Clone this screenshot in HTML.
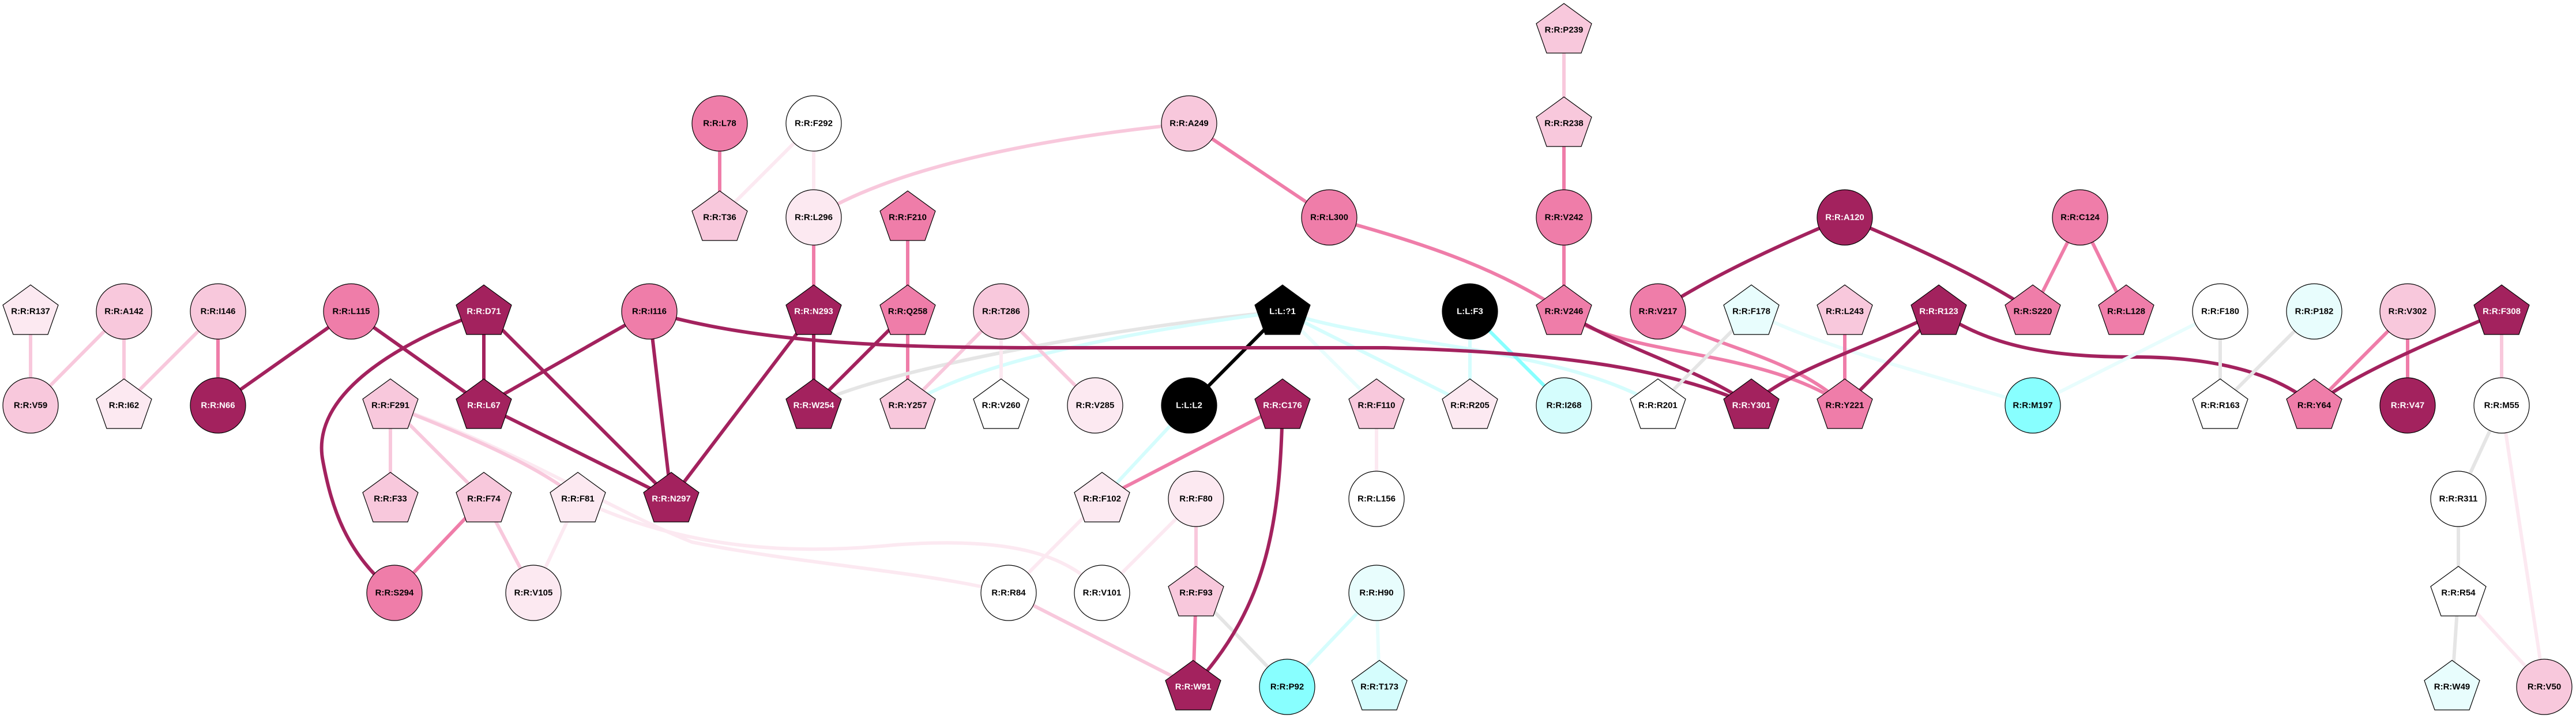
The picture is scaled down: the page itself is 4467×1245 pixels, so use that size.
<!DOCTYPE html>
<html><head><meta charset="utf-8"><style>
html,body{margin:0;padding:0;background:#fff;}
svg{display:block;}
text{font-family:"Liberation Sans",Arial,sans-serif;font-weight:bold;font-size:15px;text-anchor:middle;dominant-baseline:central;}
</style></head><body>
<svg width="4467" height="1245" viewBox="0 0 4467 1245" xmlns="http://www.w3.org/2000/svg">
<defs>
<polygon id="p" points="0,-46 48,-11 30,40 -30,40 -48,-11" stroke="#000" stroke-width="1.2"/>
</defs>
<g fill="none" stroke-width="6" stroke-linecap="round">
<!-- light/very light -->
<line x1="53" y1="540" x2="53" y2="703" stroke="#F8C8DC"/>
<line x1="215" y1="540" x2="53" y2="703" stroke="#F8C8DC"/>
<line x1="215" y1="540" x2="215" y2="703" stroke="#F8C8DC"/>
<line x1="378" y1="540" x2="215" y2="703" stroke="#F8C8DC"/>
<line x1="378" y1="540" x2="378" y2="703" stroke="#EF7DA9"/>
<line x1="609" y1="540" x2="378" y2="703" stroke="#A3225E"/>
<line x1="609" y1="540" x2="839" y2="703" stroke="#A3225E"/>
<line x1="839" y1="540" x2="839" y2="703" stroke="#A3225E"/>
<line x1="839" y1="540" x2="1164" y2="865" stroke="#A3225E"/>
<path d="M839,540 C650,610 540,700 560,800 C575,880 600,960 684,1028" stroke="#A3225E"/>
<line x1="1126" y1="540" x2="839" y2="703" stroke="#A3225E"/>
<line x1="1126" y1="540" x2="1164" y2="865" stroke="#A3225E"/>
<line x1="839" y1="703" x2="1164" y2="865" stroke="#A3225E"/>
<line x1="1411" y1="540" x2="1164" y2="865" stroke="#A3225E"/>
<line x1="1411" y1="540" x2="1411" y2="703" stroke="#A3225E"/>
<line x1="1411" y1="377" x2="1411" y2="540" stroke="#EF7DA9"/>
<line x1="1411" y1="214" x2="1411" y2="377" stroke="#FCE9F1"/>
<line x1="1411" y1="214" x2="1248" y2="377" stroke="#FCE9F1"/>
<line x1="1248" y1="214" x2="1248" y2="377" stroke="#EF7DA9"/>
<path d="M2062,214 C1800,240 1550,290 1411,377" stroke="#F8C8DC"/>
<line x1="2062" y1="214" x2="2305" y2="377" stroke="#EF7DA9"/>
<path d="M2305,377 C2500,430 2600,470 2712,540" stroke="#EF7DA9"/>
<line x1="677" y1="703" x2="677" y2="865" stroke="#F8C8DC"/>
<line x1="677" y1="703" x2="839" y2="865" stroke="#F8C8DC"/>
<path d="M677,703 C900,780 1050,880 1200,940 C1400,980 1600,990 1749,1028" stroke="#FCE9F1"/>
<path d="M677,703 C850,770 950,820 1002,865" stroke="#F8C8DC"/>
<path d="M1002,865 C1200,960 1400,960 1550,945 C1750,930 1850,960 1911,1028" stroke="#FCE9F1"/>
<line x1="839" y1="865" x2="684" y2="1028" stroke="#EF7DA9"/>
<line x1="839" y1="865" x2="925" y2="1028" stroke="#F8C8DC"/>
<line x1="1002" y1="865" x2="925" y2="1028" stroke="#FCE9F1"/>
<line x1="1574" y1="377" x2="1574" y2="540" stroke="#EF7DA9"/>
<line x1="1574" y1="540" x2="1574" y2="703" stroke="#EF7DA9"/>
<path d="M1411,703 C1500,650 1900,570 2224,540" stroke="#E5E5E5"/>
<path d="M1574,703 C1700,620 2000,570 2224,540" stroke="#D5FDFD"/>
<line x1="1574" y1="540" x2="1411" y2="703" stroke="#A3225E"/>
<line x1="1736" y1="540" x2="1574" y2="703" stroke="#F8C8DC"/>
<line x1="1736" y1="540" x2="1736" y2="703" stroke="#FCE9F1"/>
<line x1="1736" y1="540" x2="1899" y2="703" stroke="#F8C8DC"/>
<line x1="2224" y1="540" x2="2387" y2="703" stroke="#E8FDFD"/>
<line x1="2224" y1="540" x2="2549" y2="703" stroke="#D5FDFD"/>
<path d="M2224,540 C2400,600 2700,600 2875,703" stroke="#D5FDFD"/>
<line x1="2549" y1="540" x2="2549" y2="703" stroke="#D5FDFD"/>
<line x1="2549" y1="540" x2="2712" y2="703" stroke="#88FFFF"/>
<line x1="2062" y1="703" x2="1911" y2="865" stroke="#D5FDFD"/>
<line x1="2224" y1="703" x2="1911" y2="865" stroke="#EF7DA9"/>
<line x1="1911" y1="865" x2="1749" y2="1028" stroke="#FCE9F1"/>
<line x1="2074" y1="865" x2="1911" y2="1028" stroke="#FCE9F1"/>
<line x1="2074" y1="865" x2="2074" y2="1028" stroke="#F8C8DC"/>
<line x1="2074" y1="1028" x2="2069" y2="1191" stroke="#EF7DA9"/>
<line x1="2074" y1="1028" x2="2232" y2="1191" stroke="#E5E5E5"/>
<line x1="1749" y1="1028" x2="2069" y2="1191" stroke="#F8C8DC"/>
<line x1="2387" y1="1028" x2="2232" y2="1191" stroke="#D5FDFD"/>
<line x1="2387" y1="1028" x2="2392" y2="1191" stroke="#E8FDFD"/>
<line x1="2387" y1="703" x2="2387" y2="865" stroke="#FCE9F1"/>
<path d="M2224,703 C2220,900 2200,1050 2069,1191" stroke="#A3225E"/>
<line x1="2224" y1="540" x2="2062" y2="703" stroke="#000"/>
<path d="M1126,540 C1300,590 1500,603 1800,603 L2400,603 C2700,610 2900,640 3037,703" stroke="#A3225E"/>
<line x1="2712" y1="52" x2="2712" y2="214" stroke="#F8C8DC"/>
<line x1="2712" y1="214" x2="2712" y2="377" stroke="#EF7DA9"/>
<line x1="2712" y1="377" x2="2712" y2="540" stroke="#EF7DA9"/>
<path d="M2712,540 C2800,620 3050,600 3199,703" stroke="#EF7DA9"/>
<path d="M2875,540 C2950,600 3100,610 3199,703" stroke="#EF7DA9"/>
<path d="M2712,540 C2800,600 2950,640 3037,703" stroke="#A3225E"/>
<line x1="3037" y1="540" x2="2875" y2="703" stroke="#E5E5E5"/>
<path d="M3037,540 C3150,600 3350,650 3525,703" stroke="#E8FDFD"/>
<path d="M3199,377 C3050,440 2950,490 2875,540" stroke="#A3225E"/>
<path d="M3199,377 C3350,440 3450,490 3525,540" stroke="#A3225E"/>
<line x1="3607" y1="377" x2="3525" y2="540" stroke="#EF7DA9"/>
<line x1="3607" y1="377" x2="3687" y2="540" stroke="#EF7DA9"/>
<line x1="3199" y1="540" x2="3199" y2="703" stroke="#EF7DA9"/>
<path d="M3362,540 C3250,600 3100,640 3037,703" stroke="#A3225E"/>
<line x1="3362" y1="540" x2="3199" y2="703" stroke="#A3225E"/>
<path d="M3362,540 C3450,600 3550,619 3700,619 C3850,619 3950,650 4013,703" stroke="#A3225E"/>
<line x1="3850" y1="540" x2="3525" y2="703" stroke="#E8FDFD"/>
<line x1="3850" y1="540" x2="3850" y2="703" stroke="#E5E5E5"/>
<line x1="4013" y1="540" x2="3850" y2="703" stroke="#E5E5E5"/>
<line x1="4175" y1="540" x2="4013" y2="703" stroke="#EF7DA9"/>
<line x1="4175" y1="540" x2="4175" y2="703" stroke="#EF7DA9"/>
<path d="M4338,540 C4200,600 4080,650 4013,703" stroke="#A3225E"/>
<line x1="4338" y1="540" x2="4338" y2="703" stroke="#F8C8DC"/>
<line x1="4338" y1="703" x2="4263" y2="865" stroke="#E5E5E5"/>
<line x1="4338" y1="703" x2="4412" y2="1191" stroke="#FCE9F1"/>
<line x1="4263" y1="865" x2="4263" y2="1028" stroke="#E5E5E5"/>
<line x1="4263" y1="1028" x2="4252" y2="1191" stroke="#E5E5E5"/>
<line x1="4263" y1="1028" x2="4412" y2="1191" stroke="#FCE9F1"/>
</g>
<g stroke="#000" stroke-width="1.2">
<!-- row 52 -->
<use href="#p" x="2712" y="52" fill="#F8C8DC"/>
<!-- row 214 -->
<circle cx="1248" cy="214" r="48" fill="#EF7DA9"/>
<circle cx="1411" cy="214" r="48" fill="#fff"/>
<circle cx="2062" cy="214" r="48" fill="#F8C8DC"/>
<use href="#p" x="2712" y="214" fill="#F8C8DC"/>
<!-- row 377 -->
<use href="#p" x="1248" y="377" fill="#F8C8DC"/>
<circle cx="1411" cy="377" r="48" fill="#FCE9F1"/>
<use href="#p" x="1574" y="377" fill="#EF7DA9"/>
<circle cx="2305" cy="377" r="48" fill="#EF7DA9"/>
<circle cx="2712" cy="377" r="48" fill="#EF7DA9"/>
<circle cx="3199" cy="377" r="48" fill="#A3225E"/>
<circle cx="3607" cy="377" r="48" fill="#EF7DA9"/>
<!-- row 540 -->
<use href="#p" x="53" y="540" fill="#FCE9F1"/>
<circle cx="215" cy="540" r="48" fill="#F8C8DC"/>
<circle cx="378" cy="540" r="48" fill="#F8C8DC"/>
<circle cx="609" cy="540" r="48" fill="#EF7DA9"/>
<use href="#p" x="839" y="540" fill="#A3225E"/>
<circle cx="1126" cy="540" r="48" fill="#EF7DA9"/>
<use href="#p" x="1411" y="540" fill="#A3225E"/>
<use href="#p" x="1574" y="540" fill="#EF7DA9"/>
<circle cx="1736" cy="540" r="48" fill="#F8C8DC"/>
<use href="#p" x="2224" y="540" fill="#000"/>
<circle cx="2549" cy="540" r="48" fill="#000"/>
<use href="#p" x="2712" y="540" fill="#EF7DA9"/>
<circle cx="2875" cy="540" r="48" fill="#EF7DA9"/>
<use href="#p" x="3037" y="540" fill="#E8FDFD"/>
<use href="#p" x="3199" y="540" fill="#F8C8DC"/>
<use href="#p" x="3362" y="540" fill="#A3225E"/>
<use href="#p" x="3525" y="540" fill="#EF7DA9"/>
<use href="#p" x="3687" y="540" fill="#EF7DA9"/>
<circle cx="3850" cy="540" r="48" fill="#fff"/>
<circle cx="4013" cy="540" r="48" fill="#E8FDFD"/>
<circle cx="4175" cy="540" r="48" fill="#F8C8DC"/>
<use href="#p" x="4338" y="540" fill="#A3225E"/>
<!-- row 703 -->
<circle cx="53" cy="703" r="48" fill="#F8C8DC"/>
<use href="#p" x="215" y="703" fill="#FCE9F1"/>
<circle cx="378" cy="703" r="48" fill="#A3225E"/>
<use href="#p" x="677" y="703" fill="#F8C8DC"/>
<use href="#p" x="839" y="703" fill="#A3225E"/>
<use href="#p" x="1411" y="703" fill="#A3225E"/>
<use href="#p" x="1574" y="703" fill="#F8C8DC"/>
<use href="#p" x="1736" y="703" fill="#fff"/>
<circle cx="1899" cy="703" r="48" fill="#FCE9F1"/>
<circle cx="2062" cy="703" r="48" fill="#000"/>
<use href="#p" x="2224" y="703" fill="#A3225E"/>
<use href="#p" x="2387" y="703" fill="#F8C8DC"/>
<use href="#p" x="2549" y="703" fill="#FCE9F1"/>
<circle cx="2712" cy="703" r="48" fill="#D5FDFD"/>
<use href="#p" x="2875" y="703" fill="#fff"/>
<use href="#p" x="3037" y="703" fill="#A3225E"/>
<use href="#p" x="3199" y="703" fill="#EF7DA9"/>
<circle cx="3525" cy="703" r="48" fill="#88FFFF"/>
<use href="#p" x="3850" y="703" fill="#fff"/>
<use href="#p" x="4013" y="703" fill="#EF7DA9"/>
<circle cx="4175" cy="703" r="48" fill="#A3225E"/>
<circle cx="4338" cy="703" r="48" fill="#fff"/>
<!-- row 865 -->
<use href="#p" x="677" y="865" fill="#F8C8DC"/>
<use href="#p" x="839" y="865" fill="#F8C8DC"/>
<use href="#p" x="1002" y="865" fill="#FCE9F1"/>
<use href="#p" x="1164" y="865" fill="#A3225E"/>
<use href="#p" x="1911" y="865" fill="#FCE9F1"/>
<circle cx="2074" cy="865" r="48" fill="#FCE9F1"/>
<circle cx="2387" cy="865" r="48" fill="#fff"/>
<circle cx="4263" cy="865" r="48" fill="#fff"/>
<!-- row 1028 -->
<circle cx="684" cy="1028" r="48" fill="#EF7DA9"/>
<circle cx="925" cy="1028" r="48" fill="#FCE9F1"/>
<circle cx="1749" cy="1028" r="48" fill="#fff"/>
<circle cx="1911" cy="1028" r="48" fill="#fff"/>
<use href="#p" x="2074" y="1028" fill="#F8C8DC"/>
<circle cx="2387" cy="1028" r="48" fill="#E8FDFD"/>
<use href="#p" x="4263" y="1028" fill="#fff"/>
<!-- row 1191 -->
<use href="#p" x="2069" y="1191" fill="#A3225E"/>
<circle cx="2232" cy="1191" r="48" fill="#88FFFF"/>
<use href="#p" x="2392" y="1191" fill="#D5FDFD"/>
<use href="#p" x="4252" y="1191" fill="#E8FDFD"/>
<circle cx="4412" cy="1191" r="48" fill="#F8C8DC"/>
</g>
<g fill="#000">
<text x="2712" y="52">R:R:P239</text>
<text x="1248" y="214">R:R:L78</text>
<text x="1411" y="214">R:R:F292</text>
<text x="2062" y="214">R:R:A249</text>
<text x="2712" y="214">R:R:R238</text>
<text x="1248" y="377">R:R:T36</text>
<text x="1411" y="377">R:R:L296</text>
<text x="1574" y="377">R:R:F210</text>
<text x="2305" y="377">R:R:L300</text>
<text x="2712" y="377">R:R:V242</text>
<text x="3199" y="377" fill="#fff">R:R:A120</text>
<text x="3607" y="377">R:R:C124</text>
<text x="53" y="540">R:R:R137</text>
<text x="215" y="540">R:R:A142</text>
<text x="378" y="540">R:R:I146</text>
<text x="609" y="540">R:R:L115</text>
<text x="839" y="540" fill="#fff">R:R:D71</text>
<text x="1126" y="540">R:R:I116</text>
<text x="1411" y="540" fill="#fff">R:R:N293</text>
<text x="1574" y="540">R:R:Q258</text>
<text x="1736" y="540">R:R:T286</text>
<text x="2224" y="540" fill="#fff">L:L:?1</text>
<text x="2549" y="540" fill="#fff">L:L:F3</text>
<text x="2712" y="540">R:R:V246</text>
<text x="2875" y="540">R:R:V217</text>
<text x="3037" y="540">R:R:F178</text>
<text x="3199" y="540">R:R:L243</text>
<text x="3362" y="540" fill="#fff">R:R:R123</text>
<text x="3525" y="540">R:R:S220</text>
<text x="3687" y="540">R:R:L128</text>
<text x="3850" y="540">R:R:F180</text>
<text x="4013" y="540">R:R:P182</text>
<text x="4175" y="540">R:R:V302</text>
<text x="4338" y="540" fill="#fff">R:R:F308</text>
<text x="53" y="703">R:R:V59</text>
<text x="215" y="703">R:R:I62</text>
<text x="378" y="703" fill="#fff">R:R:N66</text>
<text x="677" y="703">R:R:F291</text>
<text x="839" y="703" fill="#fff">R:R:L67</text>
<text x="1411" y="703" fill="#fff">R:R:W254</text>
<text x="1574" y="703">R:R:Y257</text>
<text x="1736" y="703">R:R:V260</text>
<text x="1899" y="703">R:R:V285</text>
<text x="2062" y="703" fill="#fff">L:L:L2</text>
<text x="2224" y="703" fill="#fff">R:R:C176</text>
<text x="2387" y="703">R:R:F110</text>
<text x="2549" y="703">R:R:R205</text>
<text x="2712" y="703">R:R:I268</text>
<text x="2875" y="703">R:R:R201</text>
<text x="3037" y="703" fill="#fff">R:R:Y301</text>
<text x="3199" y="703">R:R:Y221</text>
<text x="3525" y="703">R:R:M197</text>
<text x="3850" y="703">R:R:R163</text>
<text x="4013" y="703">R:R:Y64</text>
<text x="4175" y="703" fill="#fff">R:R:V47</text>
<text x="4338" y="703">R:R:M55</text>
<text x="677" y="865">R:R:F33</text>
<text x="839" y="865">R:R:F74</text>
<text x="1002" y="865">R:R:F81</text>
<text x="1164" y="865" fill="#fff">R:R:N297</text>
<text x="1911" y="865">R:R:F102</text>
<text x="2074" y="865">R:R:F80</text>
<text x="2387" y="865">R:R:L156</text>
<text x="4263" y="865">R:R:R311</text>
<text x="684" y="1028">R:R:S294</text>
<text x="925" y="1028">R:R:V105</text>
<text x="1749" y="1028">R:R:R84</text>
<text x="1911" y="1028">R:R:V101</text>
<text x="2074" y="1028">R:R:F93</text>
<text x="2387" y="1028">R:R:H90</text>
<text x="4263" y="1028">R:R:R54</text>
<text x="2069" y="1191" fill="#fff">R:R:W91</text>
<text x="2232" y="1191">R:R:P92</text>
<text x="2392" y="1191">R:R:T173</text>
<text x="4252" y="1191">R:R:W49</text>
<text x="4412" y="1191">R:R:V50</text>
</g>
</svg>
</body></html>
